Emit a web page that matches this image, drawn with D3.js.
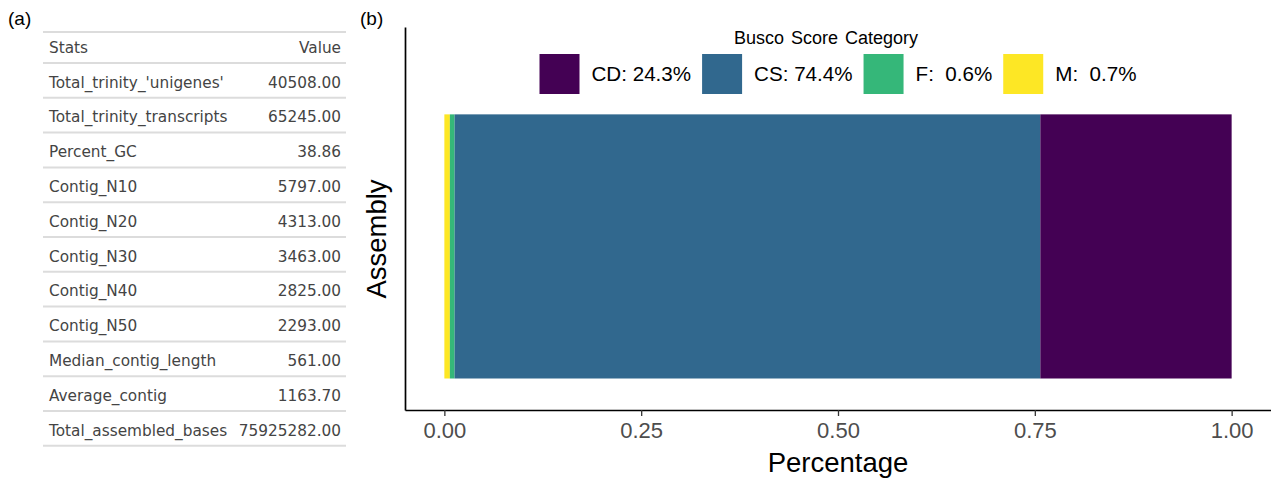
<!DOCTYPE html>
<html>
<head>
<meta charset="utf-8">
<script src="https://cdn.jsdelivr.net/npm/d3@7"></script>
<style>
  body { margin: 0; background: #fff; }
  text { white-space: pre; }
</style>
</head>
<body>
<div id="fig"></div>
<script>
// panel (a) table
var statNames = ["Total_trinity_'unigenes'", 'Total_trinity_transcripts', 'Percent_GC',
  'Contig_N10', 'Contig_N20', 'Contig_N30', 'Contig_N40', 'Contig_N50',
  'Median_contig_length', 'Average_contig', 'Total_assembled_bases'];
var statValues = [40508, 65245, 38.86, 5797, 4313, 3463, 2825, 2293, 561, 1163.70, 75925282];

// panel (b) busco
var categories = ['CD', 'CS', 'F', 'M'];
var percents = [24.3, 74.4, 0.6, 0.7];
var colors = ['#440154', '#31688E', '#35B779', '#FDE725'];
var xTicks = [0, 0.25, 0.5, 0.75, 1];

var width = 1271, height = 479;
var svg = d3.select('#fig').append('svg')
  .attr('width', width).attr('height', height);

var sans = 'Liberation Sans, Arial, sans-serif';
var deja = 'DejaVu Sans, sans-serif';

// ---- (a) ----
svg.append('text').attr('x', 8).attr('y', 25)
  .attr('font-family', sans).attr('font-size', 19).text('(a)');

var tbl = {left: 43, right: 346, top: 32, headH: 31, rowH: 34.8};
var tg = svg.append('g');
var rowTops = statNames.map(function(d, i) { return tbl.top + tbl.headH + i * tbl.rowH; });
var lineYs = [tbl.top, tbl.top + tbl.headH].concat(rowTops.map(function(y) { return y + tbl.rowH; }));

tg.selectAll('line.rule').data(lineYs).enter()
  .append('line').attr('class', 'rule')
  .attr('x1', tbl.left).attr('x2', tbl.right)
  .attr('y1', function(d) { return d; }).attr('y2', function(d) { return d; })
  .attr('stroke', '#dcdcdc').attr('stroke-width', 2);

var tSize = 15.3, tCol = '#444';
tg.append('text').attr('x', 49).attr('y', tbl.top + 21)
  .attr('font-family', deja).attr('font-size', tSize).attr('fill', tCol).text('Stats');
tg.append('text').attr('x', 341).attr('y', tbl.top + 21).attr('text-anchor', 'end')
  .attr('font-family', deja).attr('font-size', tSize).attr('fill', tCol).text('Value');

var fmt2 = d3.format('.2f');
var rows = tg.selectAll('g.row').data(statNames).enter()
  .append('g').attr('class', 'row')
  .attr('transform', function(d, i) { return 'translate(0,' + (rowTops[i] + 24.5) + ')'; });
rows.append('text').attr('x', 49)
  .attr('font-family', deja).attr('font-size', tSize).attr('fill', tCol)
  .text(function(d) { return d; });
rows.append('text').attr('x', 341).attr('text-anchor', 'end')
  .attr('font-family', deja).attr('font-size', tSize).attr('fill', tCol)
  .text(function(d, i) { return fmt2(statValues[i]); });

// ---- (b) ----
svg.append('text').attr('x', 360).attr('y', 25)
  .attr('font-family', sans).attr('font-size', 19).text('(b)');

var panel = {left: 405, right: 1271, top: 27, bottom: 410};

// ggplot style 5% expansion either side
var x = d3.scaleLinear().domain([-0.05, 1.05]).range([panel.left, panel.right]);
var y = d3.scaleBand().domain(['Assembly']).range([panel.top, panel.bottom])
  .paddingInner(0).paddingOuter(0.225).align(0.735);

// stack: first category ends up on the right, like ggplot
var row = {};
categories.forEach(function(c, i) { row[c] = percents[i] / 100; });
var stack = d3.stack().keys(categories.slice().reverse())([row]);

svg.append('g').selectAll('rect').data(stack).enter()
  .append('rect')
  .attr('x', function(s) { return x(s[0][0]); })
  .attr('width', function(s) { return x(s[0][1]) - x(s[0][0]); })
  .attr('y', y('Assembly'))
  .attr('height', y.bandwidth())
  .attr('fill', function(s) { return colors[categories.indexOf(s.key)]; });

var xAxis = svg.append('g')
  .attr('transform', 'translate(0,' + panel.bottom + ')')
  .call(d3.axisBottom(x).tickValues(xTicks).tickFormat(d3.format('.2f')).tickSize(6).tickSizeOuter(0).tickPadding(6));
xAxis.select('.domain').attr('stroke', '#000').attr('stroke-width', 1.7);
xAxis.selectAll('.tick line').attr('stroke', '#333').attr('stroke-width', 1.3);
xAxis.selectAll('.tick text').attr('font-family', sans).attr('font-size', 22).attr('fill', '#4d4d4d');

var yAxis = svg.append('g')
  .attr('transform', 'translate(' + panel.left + ',0)')
  .call(d3.axisLeft(y).tickSize(0).tickSizeOuter(0).tickFormat(''));
yAxis.select('.domain').attr('stroke', '#000').attr('stroke-width', 1.7);

svg.append('text').attr('x', (panel.left + panel.right) / 2).attr('y', 472)
  .attr('text-anchor', 'middle').attr('font-family', sans).attr('font-size', 27.5)
  .text('Percentage');
svg.append('text')
  .attr('transform', 'translate(386,' + 239 + ') rotate(-90)')
  .attr('text-anchor', 'middle').attr('font-family', sans).attr('font-size', 27.5)
  .text('Assembly');

// legend
var pctFmt = d3.format(' >4.1f');
var leg = svg.append('g');
leg.append('text').attr('x', 826).attr('y', 43.5).attr('text-anchor', 'middle')
  .attr('font-family', sans).attr('font-size', 18).attr('word-spacing', 2)
  .text('Busco Score Category');

var keySize = 40, keyGap = 12, itemGap = 11;
var items = leg.selectAll('g.item').data(categories).enter()
  .append('g').attr('class', 'item');
items.append('rect').attr('width', keySize).attr('height', keySize)
  .attr('y', 54).attr('fill', function(d, i) { return colors[i]; });
items.append('text').attr('x', keySize + keyGap).attr('y', 81)
  .attr('font-family', sans).attr('font-size', 20.6)
  .text(function(d, i) { return d + ': ' + pctFmt(percents[i]) + '%'; });

var widths = [];
items.each(function() {
  widths.push(keySize + keyGap + d3.select(this).select('text').node().getComputedTextLength());
});
var total = d3.sum(widths) + itemGap * (widths.length - 1);
var start = (panel.left + panel.right) / 2 - total / 2;
var offs = [];
widths.reduce(function(a, w) { offs.push(a); return a + w + itemGap; }, start);
items.attr('transform', function(d, i) { return 'translate(' + offs[i] + ',0)'; });
</script>
</body>
</html>
